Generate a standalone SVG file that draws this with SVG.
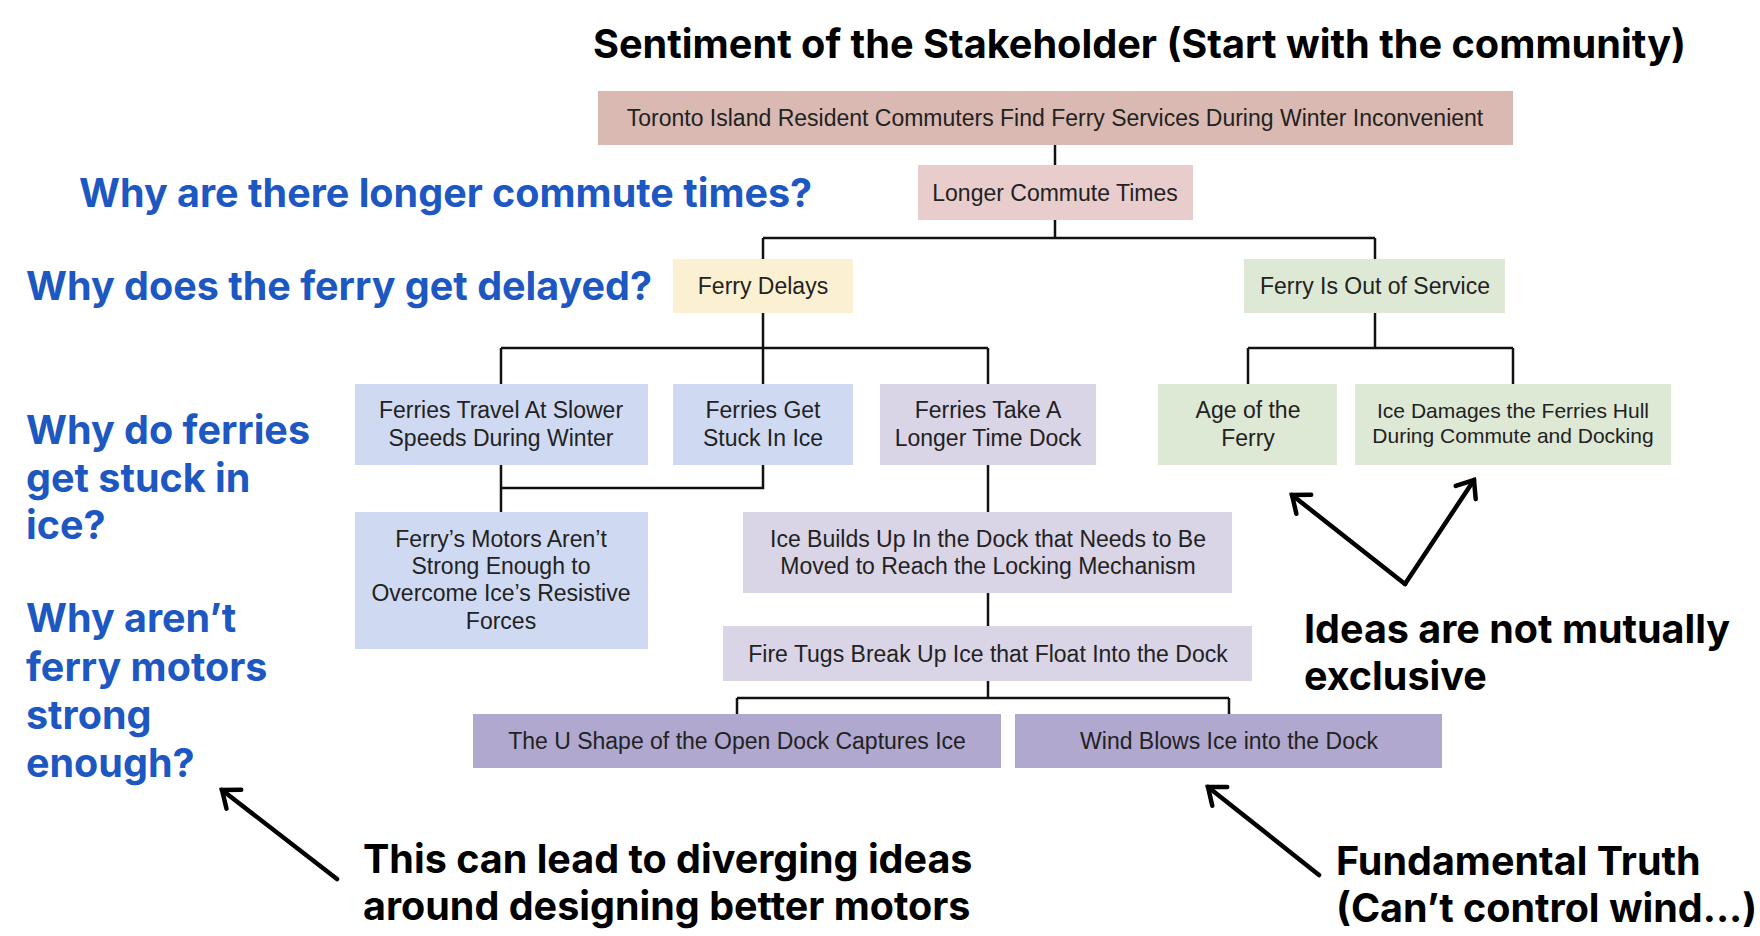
<svg xmlns="http://www.w3.org/2000/svg" width="1760" height="936" viewBox="0 0 1760 936">
<style>
.nt{font-family:"Liberation Sans",Arial,sans-serif;font-size:23px;fill:#222;text-anchor:middle;dominant-baseline:central}
.sm{font-size:21px}
.q{font-family:Inter,"Roboto",sans-serif;font-weight:700;font-size:39.5px;fill:#1d57c2}
.a{font-family:Inter,"Roboto",sans-serif;font-weight:700;font-size:39.5px;fill:#000}
.c{fill:none;stroke:#111;stroke-width:2.5}
.ar{fill:none;stroke:#000;stroke-width:4.5;stroke-linecap:round}
.rose{fill:#d9b9b1}.pink{fill:#e9cdcd}.yel{fill:#fcf0d3}.grn{fill:#dde8d5}.blu{fill:#cfdaf2}.lav{fill:#d9d4e6}.pur{fill:#b0a8cf}
</style>
<defs>
<marker id="ah" markerUnits="userSpaceOnUse" markerWidth="40" markerHeight="40" viewBox="-20 -20 40 40" refX="0" refY="0" orient="auto">
<path d="M-15,-12 L0,0 L-15,12" fill="none" stroke="#000" stroke-width="4.5" stroke-linecap="round" stroke-linejoin="miter"/>
</marker>
</defs>
<rect width="1760" height="936" fill="#fff"/>

<text class="a" x="593" y="58" textLength="1093" lengthAdjust="spacingAndGlyphs">Sentiment of the Stakeholder (Start with the community)</text>

<g id="connectors">
<path class="c" d="M1055,145 V165"/>
<path class="c" d="M1055,220 V238 M763,238 H1375 M763,238 V259 M1375,238 V259"/>
<path class="c" d="M763,313 V384 M501,348 H988 M501,348 V384 M988,348 V384"/>
<path class="c" d="M1375,313 V348 M1248,348 H1513 M1248,348 V384 M1513,348 V384"/>
<path class="c" d="M501,465 V512 M763,465 V488 H501"/>
<path class="c" d="M988,465 V512"/>
<path class="c" d="M988,593 V626"/>
<path class="c" d="M988,681 V698 M737,698 H1229 M737,698 V714 M1229,698 V714"/>
</g>

<g id="n-root"><rect class="rose" x="598" y="91" width="915" height="54"/><text class="nt" x="1055" y="118">Toronto Island Resident Commuters Find Ferry Services During Winter Inconvenient</text></g>
<g id="n-longer"><rect class="pink" x="918" y="165" width="275" height="55"/><text class="nt" x="1055" y="193">Longer Commute Times</text></g>
<g id="n-delays"><rect class="yel" x="673" y="259" width="180" height="54"/><text class="nt" x="763" y="286">Ferry Delays</text></g>
<g id="n-outofservice"><rect class="grn" x="1244" y="259" width="261" height="54"/><text class="nt" x="1375" y="286">Ferry Is Out of Service</text></g>
<g id="n-slower"><rect class="blu" x="355" y="384" width="293" height="81"/><text class="nt" x="501" y="410">Ferries Travel At Slower</text><text class="nt" x="501" y="438">Speeds During Winter</text></g>
<g id="n-stuck"><rect class="blu" x="673" y="384" width="180" height="81"/><text class="nt" x="763" y="410">Ferries Get</text><text class="nt" x="763" y="438">Stuck In Ice</text></g>
<g id="n-dock"><rect class="lav" x="880" y="384" width="216" height="81"/><text class="nt" x="988" y="410">Ferries Take A</text><text class="nt" x="988" y="438">Longer Time Dock</text></g>
<g id="n-age"><rect class="grn" x="1158" y="384" width="179" height="81"/><text class="nt" x="1248" y="410">Age of the</text><text class="nt" x="1248" y="438">Ferry</text></g>
<g id="n-hull"><rect class="grn" x="1355" y="384" width="316" height="81"/><text class="nt sm" x="1513" y="410">Ice Damages the Ferries Hull</text><text class="nt sm" x="1513" y="435">During Commute and Docking</text></g>
<g id="n-motors"><rect class="blu" x="355" y="512" width="293" height="137"/><text class="nt" x="501" y="539">Ferry’s Motors Aren’t</text><text class="nt" x="501" y="566">Strong Enough to</text><text class="nt" x="501" y="593">Overcome Ice’s Resistive</text><text class="nt" x="501" y="621">Forces</text></g>
<g id="n-buildup"><rect class="lav" x="743" y="512" width="489" height="81"/><text class="nt" x="988" y="539">Ice Builds Up In the Dock that Needs to Be</text><text class="nt" x="988" y="566">Moved to Reach the Locking Mechanism</text></g>
<g id="n-tugs"><rect class="lav" x="723" y="626" width="529" height="55"/><text class="nt" x="988" y="654">Fire Tugs Break Up Ice that Float Into the Dock</text></g>
<g id="n-ushape"><rect class="pur" x="473" y="714" width="528" height="54"/><text class="nt" x="737" y="741">The U Shape of the Open Dock Captures Ice</text></g>
<g id="n-wind"><rect class="pur" x="1015" y="714" width="427" height="54"/><text class="nt" x="1229" y="741">Wind Blows Ice into the Dock</text></g>

<g id="questions">
<text class="q" x="79" y="207">Why are there longer commute times?</text>
<text class="q" x="26" y="300">Why does the ferry get delayed?</text>
<text class="q" x="26" y="444">Why do ferries</text>
<text class="q" x="26" y="492">get stuck in</text>
<text class="q" x="26" y="539">ice?</text>
<text class="q" x="26" y="632">Why aren’t</text>
<text class="q" x="26" y="681">ferry motors</text>
<text class="q" x="26" y="729">strong</text>
<text class="q" x="26" y="777">enough?</text>
</g>

<g id="annotations">
<text class="a" x="1304" y="643">Ideas are not mutually</text>
<text class="a" x="1304" y="690">exclusive</text>
<text class="a" x="363" y="873">This can lead to diverging ideas</text>
<text class="a" x="363" y="920">around designing better motors</text>
<text class="a" x="1336" y="875">Fundamental Truth</text>
<text class="a" x="1336" y="922">(Can’t control wind...)</text>
<path class="ar" d="M337,879 L222,790" marker-end="url(#ah)"/>
<path class="ar" d="M1405,584 L1292,495" marker-end="url(#ah)"/>
<path class="ar" d="M1405,584 L1474,480" marker-end="url(#ah)"/>
<path class="ar" d="M1319,875 L1208,787" marker-end="url(#ah)"/>
</g>
</svg>
